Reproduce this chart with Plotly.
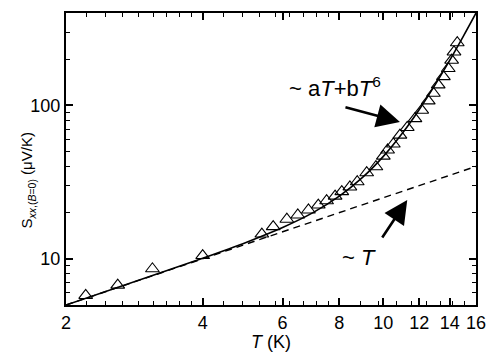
import math

import plotly.graph_objects as go

# measured points, S_xx at B=0 versus T
temp_k = [2.21, 2.60, 3.10, 4.00, 5.40, 5.72, 6.13, 6.48, 6.84, 7.19, 7.50,
          7.83, 8.10, 8.44, 8.76, 9.19, 9.63, 10.0, 10.22, 10.52, 10.88,
          11.29, 11.74, 12.15, 12.56, 12.89, 13.21, 13.56, 13.90, 14.14,
          14.31, 14.55]
seebeck = [5.77, 6.74, 8.61, 10.5, 14.5, 16.2, 18.1, 19.3, 20.8, 22.4, 23.9,
           25.6, 27.4, 29.4, 31.8, 36.4, 39.8, 46.7, 51.2, 56.0, 64.0,
           71.8, 82.0, 93.0, 107.0, 120.0, 136.0, 154.0, 174.0, 197.0,
           223.0, 256.0]

# fit curves
fit_t = [2, 3, 4, 5, 6, 7, 8, 9, 10, 11, 12, 13, 14, 15, 16]
fit_full = [5.0, 7.52, 10.09, 12.84, 16.0, 20.0, 25.6, 33.9, 46.5, 65.5,
            94.1, 136.1, 196.6, 282.0, 400.0]
lin_t = [2, 16]
lin_s = [5.0, 40.0]

x_ticks = [2, 4, 6, 8, 10, 12, 14, 16]
y_ticks = [10, 100]

x_minor = ([2 + i * 2 / 9 for i in range(1, 9)]
           + [4 + i * 4 / 9 for i in range(1, 9)]
           + [8 + i * 8 / 9 for i in range(1, 9)])
y_minor = [5, 6, 7, 8, 9, 20, 30, 40, 50, 60, 70, 80, 90, 200, 300, 400]

FONT = "Liberation Sans, Arial, sans-serif"

fig = go.Figure()

fig.add_trace(go.Scatter(
    x=lin_t, y=lin_s, mode="lines",
    line=dict(color="black", width=1.4, dash="7px,5px"),
))
fig.add_trace(go.Scatter(
    x=fit_t, y=fit_full, mode="lines", line_shape="spline",
    line=dict(color="black", width=1.6),
))
fig.add_trace(go.Scatter(
    x=temp_k, y=seebeck, mode="markers",
    marker=dict(symbol="triangle-up-open", size=12,
                color="black", line=dict(width=1.1, color="black")),
))

axis_common = dict(
    showline=True, linecolor="black", linewidth=2, mirror="ticks",
    ticks="inside", ticklen=7, tickwidth=1.5, tickcolor="black",
    showgrid=False, zeroline=False, automargin=False,
    tickfont=dict(family=FONT, size=18, color="black"),
)

fig.update_xaxes(
    type="log", range=[math.log10(2), math.log10(16)],
    tickmode="array", tickvals=x_ticks,
    ticktext=[str(v) for v in x_ticks],
    minor=dict(tickmode="array", tickvals=x_minor, ticks="inside",
               ticklen=4, tickwidth=1.2, tickcolor="black"),
    title=dict(text="<i>T</i> (K)", font=dict(family=FONT, size=18,
                                              color="black"), standoff=0),
    **axis_common,
)
fig.update_yaxes(
    type="log", range=[math.log10(5), math.log10(400)],
    tickmode="array", tickvals=y_ticks,
    ticktext=[str(v) for v in y_ticks],
    minor=dict(tickmode="array", tickvals=y_minor, ticks="inside",
               ticklen=4, tickwidth=1.2, tickcolor="black"),
    **axis_common,
)

arrow = dict(showarrow=True, arrowhead=2, arrowsize=1.8, arrowwidth=2.6,
             arrowcolor="black", xref="x", yref="y", text="")

fig.update_layout(
    width=498, height=352,
    margin=dict(l=66, r=22, t=13, b=47),
    paper_bgcolor="white", plot_bgcolor="white",
    showlegend=False,
    annotations=[
        # y axis title, placed by hand
        dict(x=-0.122, y=0.428, xref="paper", yref="paper", showarrow=False,
             textangle=-90,
             text="S<sub><i>xx</i>,(<i>B</i>=0)</sub> (μV/K)",
             font=dict(family=FONT, size=15, color="black")),
        dict(x=math.log10(7.83), y=2.119, xref="x", yref="y",
             showarrow=False,
             text="~ a<i>T</i>+b<i>T</i><sup>6</sup>",
             font=dict(family=FONT, size=22, color="black")),
        dict(x=math.log10(8.82), y=1.011, xref="x", yref="y",
             showarrow=False,
             text="~ <i>T</i>",
             font=dict(family=FONT, size=22, color="black")),
        dict(x=math.log10(10.88), y=math.log10(78), ax=-56, ay=-15, **arrow),
        dict(x=math.log10(11.29), y=math.log10(24.2), ax=-26, ay=39, **arrow),
    ],
)

# the page body keeps an 8px margin by default; drop it so the figure sits at 0,0
fig.write_html("out.html", config={"displayModeBar": False},
               post_script="document.body.style.margin='0';")
